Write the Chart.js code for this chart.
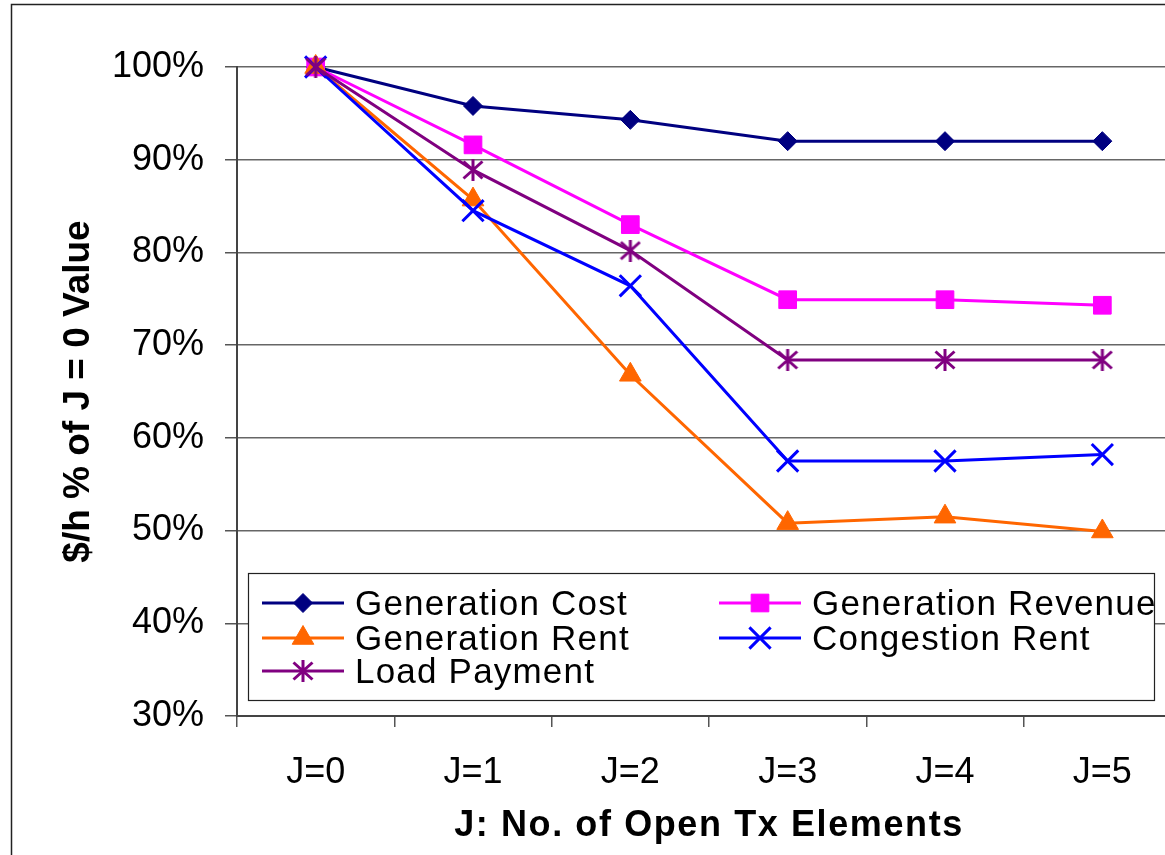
<!DOCTYPE html>
<html>
<head>
<meta charset="utf-8">
<script src="https://cdn.jsdelivr.net/npm/chart.js@4/dist/chart.umd.min.js"></script>
<style>
  html, body { margin: 0; padding: 0; overflow: hidden; background: #fff; }
  #wrap { width: 1165px; height: 855px; overflow: hidden; position: relative; }
  canvas { display: block; }
</style>
</head>
<body>
<div id="wrap"><canvas id="c" width="1200" height="855"></canvas></div>
<script>
// Cost and payment components, as % of their J = 0 value
const categories = ['J=0', 'J=1', 'J=2', 'J=3', 'J=4', 'J=5'];
const generationCost    = [100, 95.8, 94.3, 92.0, 92.0, 92.0];
const generationRevenue = [100, 91.6, 83.0, 74.9, 74.9, 74.3];
const generationRent    = [100, 85.7, 66.8, 50.8, 51.5, 49.9];
const congestionRent    = [100, 84.5, 76.4, 57.5, 57.5, 58.2];
const loadPayment       = [100, 88.9, 80.2, 68.4, 68.4, 68.4];
const yMin = 30, yMax = 100, yStep = 10;

const FONT = "'Liberation Sans', Arial, sans-serif";

// six-armed asterisk marker (vertical bar plus an X)
function makeAsterisk(color, w, h, lw) {
  const c = document.createElement('canvas');
  c.width = w; c.height = h;
  const g = c.getContext('2d');
  g.strokeStyle = color; g.lineWidth = lw;
  const m = lw / 2, cx = w / 2;
  g.beginPath();
  g.moveTo(cx, 0); g.lineTo(cx, h);
  g.moveTo(m, m + 1); g.lineTo(w - m, h - m - 1);
  g.moveTo(w - m, m + 1); g.lineTo(m, h - m - 1);
  g.stroke();
  return c;
}

function series(label, data, color, style, radius, bw, order) {
  return {
    label, data,
    borderColor: color, backgroundColor: color,
    borderWidth: 3,
    pointStyle: style, pointRadius: radius, pointHoverRadius: radius,
    pointBorderWidth: bw, pointBackgroundColor: color, pointBorderColor: color,
    tension: 0, clip: false, order
  };
}

const datasets = [
  series('Generation Cost', generationCost, '#000080', 'rectRot', 9.5, 1, 5),
  series('Generation Revenue', generationRevenue, '#FF00FF', 'rect', 12.5, 1, 4),
  series('Generation Rent', generationRent, '#FF6600', 'triangle', 12.5, 1, 3),
  series('Congestion Rent', congestionRent, '#0000FF', 'crossRot', 15, 3, 2),
  series('Load Payment', loadPayment, '#800080', makeAsterisk('#800080', 22, 22, 3), 11, 1, 1)
];

// white page with the outer frame line
const framePlugin = {
  id: 'frame',
  beforeDraw(chart) {
    const ctx = chart.ctx;
    ctx.save();
    ctx.fillStyle = '#fff';
    ctx.fillRect(0, 0, chart.width, chart.height);
    ctx.strokeStyle = '#222';
    ctx.lineWidth = 1.5;
    ctx.strokeRect(11.5, 4.5, 3000, 3000);
    ctx.restore();
  }
};

// slightly wider letter spacing on the category axis title
const spacingPlugin = {
  id: 'axisSpacing',
  beforeDraw(chart) {
    const xs = chart.scales.x;
    if (xs.__spaced) return;
    xs.__spaced = true;
    const ctx = chart.ctx;
    const tit = xs.drawTitle;
    xs.drawTitle = function () {
      ctx.save(); ctx.letterSpacing = '1.6px'; tit.call(this); ctx.restore();
    };
  }
};

// boxed two-column legend inside the plot area
const boxLegend = {
  id: 'boxLegend',
  afterDraw(chart) {
    const ctx = chart.ctx;
    const box = { x: 248.5, y: 573.5, w: 906, h: 127 };
    const colX = [262, 719];
    const rowY = [603, 638, 671];
    const lineLen = 82;
    ctx.save();
    ctx.fillStyle = '#fff';
    ctx.fillRect(box.x, box.y, box.w, box.h);
    ctx.strokeStyle = '#222';
    ctx.lineWidth = 1.2;
    ctx.strokeRect(box.x, box.y, box.w, box.h);
    chart.data.datasets.forEach((ds, i) => {
      const x0 = colX[i % 2], y = rowY[Math.floor(i / 2)];
      ctx.strokeStyle = ds.borderColor;
      ctx.lineWidth = 3;
      ctx.beginPath();
      ctx.moveTo(x0, y); ctx.lineTo(x0 + lineLen, y);
      ctx.stroke();
      ctx.fillStyle = ds.pointBackgroundColor;
      ctx.strokeStyle = ds.pointBorderColor;
      ctx.lineWidth = ds.pointBorderWidth;
      Chart.helpers.drawPoint(ctx, {
        pointStyle: ds.pointStyle, radius: ds.pointRadius, rotation: 0, borderWidth: ds.pointBorderWidth
      }, x0 + lineLen / 2, y);
      ctx.fillStyle = '#000';
      ctx.font = '35px ' + FONT;
      ctx.letterSpacing = '1.2px';
      ctx.textBaseline = 'alphabetic';
      ctx.textAlign = 'left';
      ctx.fillText(ds.label, x0 + 93, y + 12);
    });
    ctx.restore();
  }
};

new Chart(document.getElementById('c'), {
  type: 'line',
  data: { labels: categories, datasets },
  options: {
    responsive: false,
    devicePixelRatio: 1,
    animation: false,
    events: [],
    layout: { padding: { left: 0, top: 67, right: 19, bottom: 0 } },
    plugins: { legend: { display: false }, tooltip: { enabled: false } },
    scales: {
      x: {
        offset: true,
        afterFit: s => { s.height = 139; },
        grid: { display: true, drawOnChartArea: false, drawTicks: true, tickLength: 11, offset: true, color: '#555', lineWidth: 1.5 },
        border: { display: true, color: '#444', width: 2 },
        ticks: { color: '#000', font: { family: FONT, size: 36 }, padding: 24, maxRotation: 0, autoSkip: false },
        title: { display: true, text: 'J: No. of Open Tx Elements', color: '#000',
                 font: { family: FONT, size: 36, weight: 'bold' }, padding: { top: 0, bottom: 7 } }
      },
      y: {
        min: yMin, max: yMax,
        afterFit: s => { s.width = 237; },
        grid: { color: '#666', lineWidth: 1.5, drawTicks: true, tickLength: 12, tickColor: '#555' },
        border: { display: true, color: '#444', width: 2 },
        ticks: { stepSize: yStep, color: '#000', font: { family: FONT, size: 36 }, padding: 21,
                 callback: v => v + '%' },
        title: { display: true, text: '$/h % of J = 0 Value', color: '#000',
                 font: { family: FONT, size: 37, weight: 'bold' }, padding: { top: 57, bottom: 0 } }
      }
    }
  },
  plugins: [framePlugin, spacingPlugin, boxLegend]
});
</script>
</body>
</html>
